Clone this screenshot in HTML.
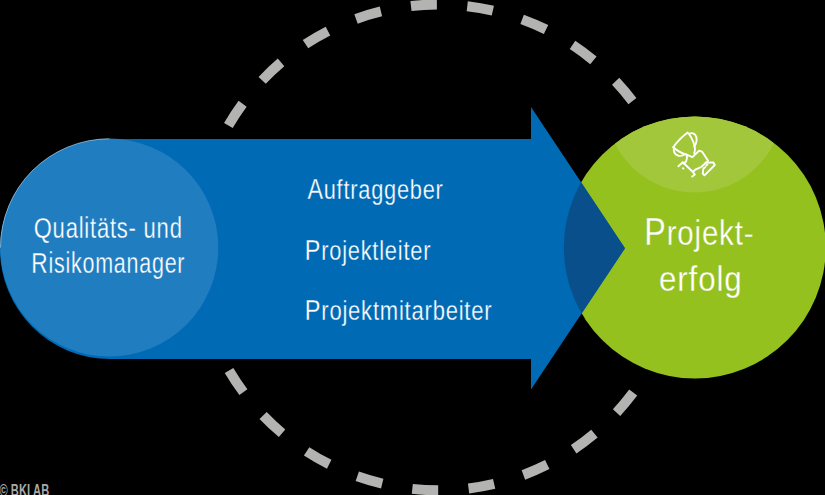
<!DOCTYPE html>
<html><head><meta charset="utf-8">
<style>
html,body{margin:0;padding:0;background:#000;width:825px;height:495px;overflow:hidden}
svg{display:block}
text{font-family:"Liberation Sans",sans-serif;fill:#fff}
</style></head><body>
<svg width="825" height="495" viewBox="0 0 825 495">
<defs>
<clipPath id="gc"><circle cx="694.8" cy="247.4" r="131"/></clipPath>
</defs>
<rect x="0" y="0" width="825" height="495" fill="#000"/>
<!-- dashed circle -->
<circle cx="438.5" cy="247.4" r="242.9" fill="none" stroke="#b3b3b2" stroke-width="10" stroke-dasharray="26 30.525" stroke-dashoffset="13.97"/>
<!-- green circle -->
<circle cx="694.8" cy="247.4" r="131" fill="#95c11f"/>
<g clip-path="url(#gc)"><circle cx="694.4" cy="103.5" r="89" fill="#a2c73a"/></g>
<!-- arrow -->
<path id="arr" d="M110,139 L531,139 L531,107 L625,248.3 L531,389.6 L531,359 L110,359 A110,110 0 0 1 110,139 Z" fill="#006bb4"/>
<!-- light circle -->
<circle cx="109.3" cy="247.6" r="109" fill="#1f7dc0"/>
<path d="M0.5,247.6 A108.8,108.8 0 0 1 109.3,138.8" fill="none" stroke="#fff" stroke-opacity="0.55" stroke-width="0.8"/>
<g clip-path="url(#gc)">
  <path d="M110,139 L531,139 L531,107 L625,248.3 L531,389.6 L531,359 L110,359 A110,110 0 0 1 110,139 Z" fill="#084f8c"/>
</g>
<!-- texts -->
<g transform="translate(307.41,199) scale(0.7722,1)"><text x="0" y="0" font-size="28.2" letter-spacing="1.0" stroke="#006bb4" stroke-width="0.3"><tspan font-size="30.2">A</tspan>uftraggeber</text></g>
<g transform="translate(304.8,259.6) scale(0.7744,1)"><text x="0" y="0" font-size="28.2" letter-spacing="1.0" stroke="#006bb4" stroke-width="0.3"><tspan font-size="30.2">P</tspan>rojektleiter</text></g>
<g transform="translate(304.76,320.2) scale(0.781,1)"><text x="0" y="0" font-size="28.2" letter-spacing="1.0" stroke="#006bb4" stroke-width="0.3"><tspan font-size="30.2">P</tspan>rojektmitarbeiter</text></g>
<g transform="translate(33.75,238.2) scale(0.7708,1)"><text x="0" y="0" font-size="28.6" letter-spacing="1.0" stroke="#1f7dc0" stroke-width="0.3"><tspan font-size="30.2">Q</tspan>ualitäts- und</text></g>
<g transform="translate(31.36,272.6) scale(0.7513,1)"><text x="0" y="0" font-size="28.6" letter-spacing="1.0" stroke="#1f7dc0" stroke-width="0.3"><tspan font-size="30.2">R</tspan>isikomanager</text></g>
<g transform="translate(644.29,244.5) scale(0.8188,1)"><text x="0" y="0" font-size="36" letter-spacing="1.0" stroke="#95c11f" stroke-width="0.3"><tspan font-size="39.5">P</tspan>rojekt-</text></g>
<g transform="translate(658.99,291.3) scale(0.8703,1)"><text x="0" y="0" font-size="36" letter-spacing="1.0" stroke="#95c11f" stroke-width="0.3">erfolg</text></g>
<g transform="translate(-0.43,495.5) scale(0.6741,1)"><text x="0" y="0" font-size="16.5" letter-spacing="0" font-weight="bold" style="fill:#a9a9a9">© <tspan font-size="16.5">B</tspan><tspan font-size="16.5">K</tspan><tspan font-size="16.5">I</tspan> <tspan font-size="16.5">A</tspan><tspan font-size="16.5">B</tspan></text></g>
<!-- icon -->
<g fill="none" stroke="#fff" stroke-width="1.9" stroke-linejoin="round" stroke-linecap="round">
  <path d="M673.3,147.2 Q679,139 687.7,132.5 Q692.5,138 694.6,146 Q695.6,150.5 694.2,153.2"/>
  <path d="M673.3,147.2 Q679,152.5 686.6,154.6"/>
  <path d="M689.6,133.6 Q694.5,131.8 696.4,137 Q697.3,142.5 694.3,146.5"/>
  <path d="M673.7,149.3 Q673.8,154.6 678.6,155.7 Q682.2,156.3 684.5,154.6"/>
  <path d="M686.6,154.6 L692.4,157.1 L699,150.7 L702,151.6 L708.1,160.8 L701.5,166.8 Q698,168.8 695.5,169.5 L693.2,171.6"/>
  <path d="M686.6,154.6 Q687.6,158.5 686.1,161.6 L683.6,163.6"/>
  <path d="M678.4,166.3 L682.8,162.2 L693.2,172.2 L694.8,174.6 L692.2,176.6"/>
  <path d="M683,168.2 L683.4,168.6"/>
  <path d="M705.6,162.6 L713.4,162.5 L714.8,165 L704.5,175.3 L702.7,173.5 L703.4,168.6 L705.2,167.2"/>
  <path d="M706.3,165.6 L707.5,164.4"/>
</g>
</svg>
</body></html>
